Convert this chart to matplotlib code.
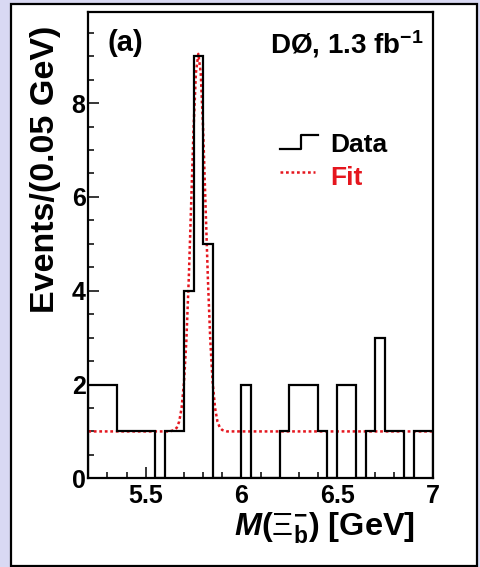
import numpy as np
import matplotlib
matplotlib.use('Agg')
import matplotlib.pyplot as plt
from matplotlib.patches import Rectangle
from matplotlib.ticker import FixedLocator, MultipleLocator

plt.rcParams['font.family'] = ['Liberation Sans', 'DejaVu Sans']
plt.rcParams['mathtext.fontset'] = 'custom'
plt.rcParams['mathtext.rm'] = 'Liberation Sans'
plt.rcParams['mathtext.it'] = 'Liberation Sans:italic'
plt.rcParams['mathtext.bf'] = 'Liberation Sans:bold'
plt.rcParams['mathtext.bfit'] = 'Liberation Sans:bold:italic'

# histogram, 0.05 GeV bins from 5.2 to 7.0
bin_edges = np.round(np.arange(5.2, 7.0001, 0.05), 3)
counts = [2, 2, 2, 1, 1, 1, 1, 0, 1, 1, 4, 9, 5, 0, 0, 0, 2, 0,
          0, 0, 1, 2, 2, 2, 1, 0, 2, 2, 0, 1, 3, 1, 1, 0, 1, 1]

# fit curve
fit_x = [5.2, 5.625, 5.65, 5.6625, 5.675, 5.6875, 5.7, 5.7125, 5.725, 5.7375,
         5.75, 5.7625, 5.775, 5.7875, 5.8, 5.8125, 5.825, 5.8375, 5.85,
         5.8625, 5.875, 5.8875, 5.9, 5.925, 7.0]
fit_y = [1.0, 1.0, 1.03, 1.08, 1.21, 1.50, 2.04, 2.94, 4.25, 5.85,
         7.45, 8.65, 9.05, 8.65, 7.45, 5.85, 4.25, 2.94, 2.04,
         1.50, 1.21, 1.08, 1.03, 1.0, 1.0]

xticks = [5.5, 6.0, 6.5, 7.0]
xtick_labels = ['5.5', '6', '6.5', '7']
yticks = [0, 2, 4, 6, 8]
ytick_labels = ['0', '2', '4', '6', '8']

fit_red = '#e5161e'

fig = plt.figure(figsize=(4.81, 5.67), dpi=100)
fig.patch.set_facecolor('#d9d9f3')
# white panel with black frame (behind the axes)
fig.patches.append(Rectangle((0.0229, 0.0025), 0.969, 0.9904, transform=fig.transFigure,
                             facecolor='white', edgecolor='black', lw=1.6, zorder=-10))

ax = fig.add_axes([0.1836, 0.1564, 0.7160, 0.8230])
ax.set_facecolor('white')

ax.plot(fit_x, fit_y, color=fit_red, lw=1.8, linestyle=(0, (1.1, 1.1)), zorder=2)
ax.stairs(counts, bin_edges, color='black', lw=1.6, zorder=3)

ax.set_xlim(5.2, 7.0)
ax.set_ylim(0, 9.95)

ax.xaxis.set_major_locator(FixedLocator(xticks))
ax.set_xticklabels(xtick_labels, fontsize=18, fontweight='bold')
ax.xaxis.set_minor_locator(MultipleLocator(0.1))
ax.yaxis.set_major_locator(FixedLocator(yticks))
ax.set_yticklabels(ytick_labels, fontsize=18, fontweight='bold')
ax.yaxis.set_minor_locator(MultipleLocator(0.5))
ax.tick_params(which='both', direction='in', width=1.1, top=False, right=False)
ax.tick_params(which='major', length=8)
ax.tick_params(which='minor', length=4.5)
ax.tick_params(axis='x', pad=4)
ax.tick_params(axis='y', pad=2)
for s in ax.spines.values():
    s.set_linewidth(1.6)

# labels
fig.text(0.0936, 0.702, 'Events/(0.05 GeV)', rotation=90, ha='center', va='center',
         fontsize=24.5, fontweight='bold')
fig.text(0.8628, 0.0688, r'$\mathbfit{M}\mathbf{(}\Xi^{\mathbf{-}}_{\mathbf{b}}\mathbf{)\ [GeV]}$',
         ha='right', va='center', fontsize=23.4)

ax.text(0.057, 0.915, '(a)', transform=ax.transAxes, fontsize=21, fontweight='bold',
        ha='left', va='baseline')
ax.text(0.972, 0.911, r'DØ, 1.3 fb$^{\mathbf{-1}}$', transform=ax.transAxes, fontsize=20,
        fontweight='bold', ha='right', va='baseline')

# legend drawn by hand
ax.plot([0.5567, 0.6167, 0.6167, 0.667], [0.705, 0.705, 0.736, 0.736], color='black',
        lw=1.6, transform=ax.transAxes)
ax.text(0.702, 0.699, 'Data', transform=ax.transAxes, fontsize=19, fontweight='bold',
        ha='left', va='baseline')
ax.plot([0.5567, 0.659], [0.657, 0.657], color=fit_red, lw=1.8, linestyle=(0, (1.1, 1.1)),
        transform=ax.transAxes)
ax.text(0.702, 0.629, 'Fit', transform=ax.transAxes, fontsize=19, fontweight='bold',
        color=fit_red, ha='left', va='baseline')

fig.savefig('out.png', dpi=100, facecolor=fig.get_facecolor())
